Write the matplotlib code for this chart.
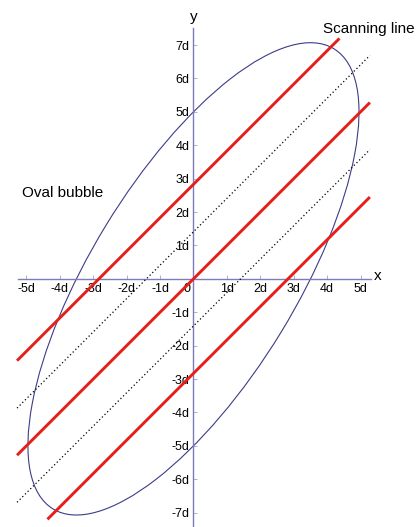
import matplotlib
matplotlib.use('Agg')
import matplotlib.pyplot as plt
import numpy as np
from matplotlib.patches import Ellipse

plt.rcParams['font.family'] = ['Liberation Sans', 'DejaVu Sans']

# tick positions (in units of d) and their labels
x_ticks = [-5, -4, -3, -2, -1, 1, 2, 3, 4, 5]
x_tick_labels = ['-5d', '-4d', '-3d', '-2d', '-1d', '1d', '2d', '3d', '4d', '5d']
y_ticks = [-7, -6, -5, -4, -3, -2, -1, 1, 2, 3, 4, 5, 6, 7]
y_tick_labels = ['-7d', '-6d', '-5d', '-4d', '-3d', '-2d', '-1d',
                 '1d', '2d', '3d', '4d', '5d', '6d', '7d']

# oval bubble: semi axes and tilt (degrees)
oval_semi_major = 8.07
oval_semi_minor = 3.07
oval_angle = 58.6

# scanning lines y = x + offset (slope 1)
red_offsets = [2.83, 0.0, -2.83]
dotted_offsets = [1.41, -1.41]
line_x = [-5.28, 5.28]
line_y_clip = 7.2

axis_col = '#7c7cba'
oval_col = '#3c3c88'
red_col = '#e3201b'

fig = plt.figure(figsize=(4.16, 5.27), dpi=100)
ax = fig.add_axes([0, 0, 1, 1])
ax.set_xlim(-5.79, 6.66)
ax.set_ylim(-7.43, 8.35)

ax.spines['left'].set_position(('data', 0))
ax.spines['bottom'].set_position(('data', 0))
ax.spines['right'].set_visible(False)
ax.spines['top'].set_visible(False)
ax.spines['left'].set_bounds(-7.43, 7.5)
ax.spines['bottom'].set_bounds(-5.26, 5.3)
for s in ['left', 'bottom']:
    ax.spines[s].set_color(axis_col)
    ax.spines[s].set_linewidth(1.0)
ax.patch.set_alpha(0)

ax.set_xticks(x_ticks)
ax.set_xticklabels(x_tick_labels)
ax.set_yticks(y_ticks)
ax.set_yticklabels(y_tick_labels)
ax.tick_params(direction='in', length=3, width=0.6, color='#a0a0c8',
               labelsize=9, labelcolor='black')
ax.tick_params(axis='x', pad=3)
ax.tick_params(axis='y', pad=3)

# the oval
ax.add_patch(Ellipse((0, 0), 2 * oval_semi_major, 2 * oval_semi_minor,
                     angle=oval_angle, fill=False, edgecolor=oval_col,
                     linewidth=0.8, zorder=2))

def clipped(offset):
    xs = np.array(line_x, dtype=float)
    x0 = max(xs[0], -line_y_clip - offset)
    x1 = min(xs[1], line_y_clip - offset)
    xs = np.array([x0, x1])
    return xs, xs + offset

for off in dotted_offsets:
    xs, ys = clipped(off)
    ax.plot(xs, ys, color='black', linestyle=(0, (1, 2)), linewidth=0.9,
            zorder=3)

for off in red_offsets:
    xs, ys = clipped(off)
    ax.plot(xs, ys, color=red_col, linewidth=2.1, solid_capstyle='butt',
            zorder=4)

ax.text(-0.08, -0.12, '0', ha='right', va='top', fontsize=9)
ax.text(5.52, 0.09, 'x', ha='center', va='center', fontsize=11)
ax.text(0.0, 7.84, 'y', ha='center', va='center', fontsize=11)
ax.text(-3.91, 2.57, 'Oval bubble', ha='center', va='center', fontsize=11)
ax.text(6.63, 7.49, 'Scanning line', ha='right', va='center', fontsize=11)

fig.savefig('out.png', dpi=100)
